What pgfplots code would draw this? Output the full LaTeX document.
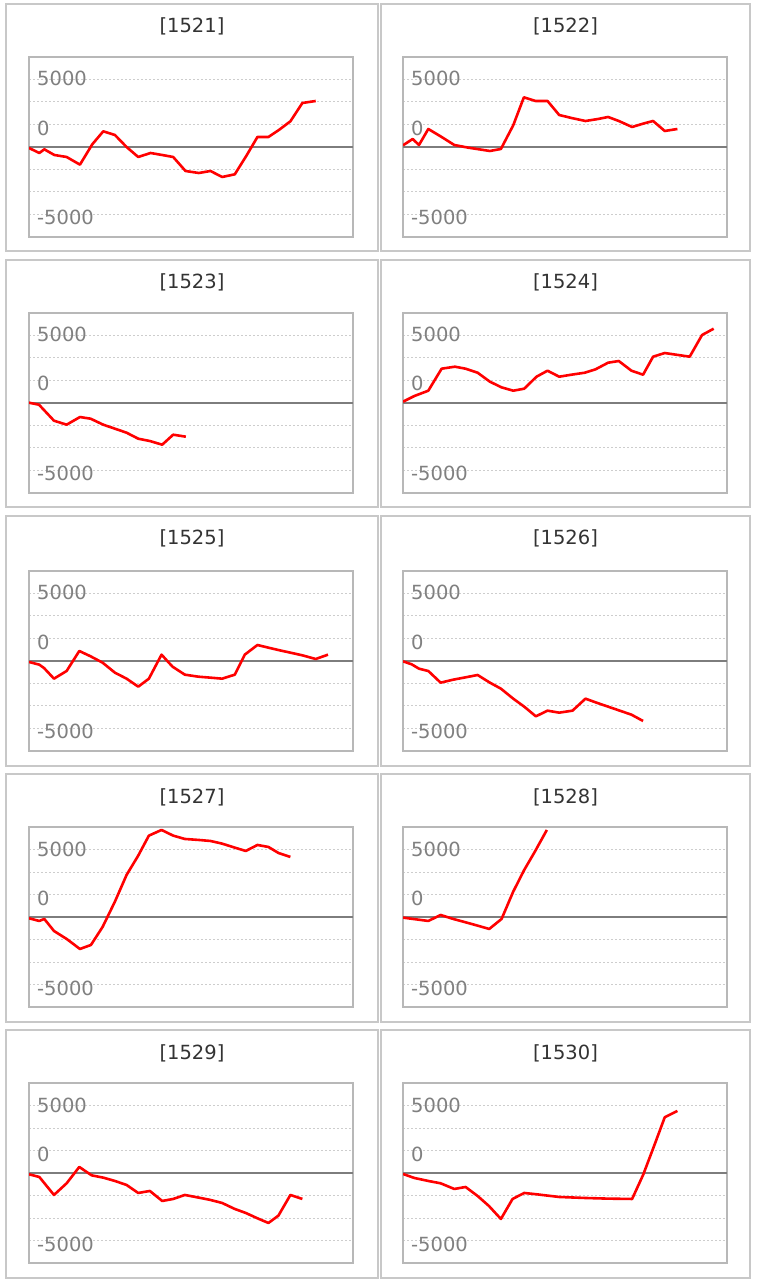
\documentclass[border=0pt]{standalone}
\usepackage{pgfplots}
\pgfplotsset{compat=1.18}
\usepackage{fontspec}
\setmainfont{DejaVu Sans}
\definecolor{boxgray}{RGB}{200,200,200}
\definecolor{axisgray}{RGB}{184,184,184}
\definecolor{gridgray}{RGB}{205,205,205}
\definecolor{zerogray}{RGB}{125,125,125}
\definecolor{labelgray}{RGB}{128,128,128}
\definecolor{titlegray}{RGB}{51,51,51}
\pgfplotsset{
  panel/.style={
    anchor=south west, scale only axis, width=324pt, height=180pt,
    xmin=0, xmax=973, ymin=-10000, ymax=10000,
    scaled y ticks=false,
    axis line style={draw=axisgray, line width=2pt},
    xtick=\empty,
    ytick={-7866,2089,7577},
    yticklabels={{-5000},{0},{5000}},
    minor ytick={-7500,-5000,-2500,2500,5000,7500},
    major tick length=0pt, minor tick length=0pt,
    yminorgrids,
    minor grid style={draw=gridgray, line width=1pt, dash pattern=on 2pt off 2pt},
    extra y ticks={0},
    extra y tick labels={},
    extra y tick style={grid=major, major grid style={draw=zerogray, line width=2pt, solid}},
    yticklabel style={anchor=west, inner sep=0pt, xshift=8pt, text=labelgray, font=\fontsize{19.5}{19.5}\selectfont},
  },
  redline/.style={draw=red, line width=2.6pt, line join=round, mark=none},
}
\tikzset{ptitle/.style={text=titlegray, font=\fontsize{19.5}{19.5}\selectfont, anchor=center, inner sep=0pt}}
\begin{document}
\begin{tikzpicture}[x=1pt,y=1pt]
\useasboundingbox (0,0) rectangle (756,1283);
\fill[white] (0,0) rectangle (756,1283);
% panel boxes
\foreach \yb/\yt in {1032/1279, 776/1023, 517/767, 261/509, 5/253}{
  \draw[boxgray, line width=2pt] (6,\yb) rectangle (378,\yt);
  \draw[boxgray, line width=2pt] (381,\yb) rectangle (750,\yt);
}
% titles
\node[ptitle] at (192,1256.3) {[1521]};
\node[ptitle] at (565.5,1256.3) {[1522]};
\node[ptitle] at (192,1000.3) {[1523]};
\node[ptitle] at (565.5,1000.3) {[1524]};
\node[ptitle] at (192,744.3) {[1525]};
\node[ptitle] at (565.5,744.3) {[1526]};
\node[ptitle] at (192,486) {[1527]};
\node[ptitle] at (565.5,486) {[1528]};
\node[ptitle] at (192,230) {[1529]};
\node[ptitle] at (565.5,230) {[1530]};

% 1521
\begin{axis}[panel, at={(29pt,1046pt)}]
\addplot[redline] coordinates {(0,-111) (31,-667) (46,-259) (76,-889) (113,-1111) (153,-1963) (190,296) (223,1741) (258,1333) (293,0) (328,-1111) (365,-667) (400,-889) (433,-1111) (470,-2667) (510,-2889) (545,-2667) (580,-3333) (618,-3037) (653,-963) (686,1111) (719,1111) (749,1852) (785,2852) (821,4889) (861,5111)};
\end{axis}
% 1522
\begin{axis}[panel, at={(403pt,1046pt)}]
\addplot[redline] coordinates {(0,185) (29,889) (48,222) (76,2000) (116,1111) (154,222) (196,-74) (261,-444) (294,-222) (331,2407) (363,5519) (398,5111) (434,5111) (469,3556) (506,3222) (548,2889) (586,3111) (616,3333) (648,2889) (688,2222) (721,2593) (751,2889) (786,1778) (824,2000)};
\end{axis}
% 1523
\begin{axis}[panel, at={(29pt,790.3pt)}]
\addplot[redline] coordinates {(0,0) (30,-222) (75,-2000) (113,-2444) (153,-1593) (185,-1778) (223,-2444) (258,-2889) (293,-3333) (328,-4000) (363,-4259) (400,-4667) (433,-3556) (471,-3778)};
\end{axis}
% 1524
\begin{axis}[panel, at={(403pt,790.3pt)}]
\addplot[redline] coordinates {(0,111) (34,741) (76,1333) (116,3778) (156,4000) (188,3778) (224,3333) (261,2333) (296,1704) (331,1333) (364,1556) (401,2889) (434,3556) (469,2889) (506,3111) (546,3333) (578,3704) (616,4444) (648,4630) (686,3556) (721,3111) (751,5111) (786,5519) (861,5111) (898,7519) (933,8222)};
\end{axis}
% 1525
\begin{axis}[panel, at={(29pt,532pt)}]
\addplot[redline] coordinates {(0,-111) (31,-407) (45,-778) (75,-1963) (113,-1111) (151,1111) (185,519) (221,-185) (258,-1296) (293,-1963) (328,-2852) (360,-1963) (398,704) (431,-630) (468,-1519) (508,-1741) (545,-1852) (580,-1963) (618,-1519) (648,704) (686,1778) (719,1481) (753,1185) (785,926) (821,630) (861,222) (898,704)};
\end{axis}
% 1526
\begin{axis}[panel, at={(403pt,532pt)}]
\addplot[redline] coordinates {(0,-37) (26,-370) (48,-852) (76,-1111) (113,-2407) (151,-2074) (188,-1815) (224,-1556) (261,-2407) (294,-3074) (331,-4185) (364,-5074) (399,-6148) (434,-5519) (469,-5741) (509,-5519) (548,-4185) (581,-4630) (616,-5074) (651,-5519) (686,-5963) (721,-6667)};
\end{axis}
% 1527
\begin{axis}[panel, at={(29pt,275.7pt)}]
\addplot[redline] coordinates {(0,-111) (31,-407) (46,-185) (75,-1519) (113,-2407) (153,-3519) (186,-3074) (221,-1074) (258,1741) (293,4704) (328,6852) (360,9074) (398,9704) (433,9074) (468,8704) (510,8593) (545,8481) (580,8185) (618,7741) (651,7370) (686,8037) (719,7815) (749,7148) (785,6704)};
\end{axis}
% 1528
\begin{axis}[panel, at={(403pt,275.7pt)}]
\addplot[redline] coordinates {(0,-37) (38,-222) (76,-407) (113,259) (151,-185) (188,-556) (224,-926) (259,-1296) (296,-185) (331,2852) (364,5259) (396,7296) (432,9704)};
\end{axis}
% 1529
\begin{axis}[panel, at={(29pt,19.7pt)}]
\addplot[redline] coordinates {(0,-111) (31,-407) (75,-2407) (113,-1111) (151,704) (188,-222) (223,-481) (258,-852) (293,-1296) (328,-2185) (363,-1963) (400,-3074) (433,-2852) (468,-2407) (510,-2704) (545,-2963) (580,-3296) (618,-3963) (651,-4407) (686,-5000) (719,-5519) (749,-4704) (785,-2407) (821,-2852)};
\end{axis}
% 1530
\begin{axis}[panel, at={(403pt,19.7pt)}]
\addplot[redline] coordinates {(0,-74) (34,-519) (76,-852) (113,-1111) (154,-1741) (188,-1519) (224,-2519) (258,-3630) (294,-5074) (329,-2852) (364,-2185) (401,-2333) (469,-2630) (546,-2741) (616,-2815) (688,-2852) (721,-185) (754,3037) (786,6222) (824,6926)};
\end{axis}
\end{tikzpicture}
\end{document}
